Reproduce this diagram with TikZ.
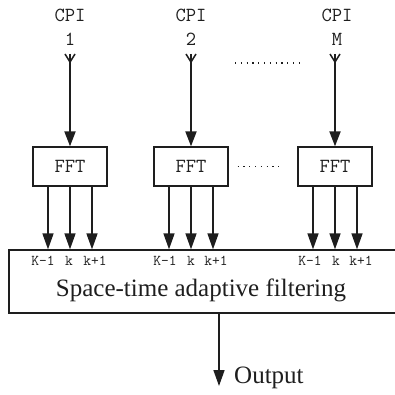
\documentclass[tikz,border=0pt]{standalone}
\usepackage{fontspec}
\setmainfont{Liberation Serif}
\usetikzlibrary{arrows.meta,calc}
\definecolor{ink}{HTML}{1E1E1E}
\begin{document}
\begin{tikzpicture}[x=1pt,y=-1pt,
  ink/.style={draw=ink,text=ink},
  fftbox/.style={ink,line width=1.3pt,minimum width=74pt,minimum height=39pt,inner sep=0pt,font=\ttfamily\fontsize{20}{20}\selectfont},
  cpitxt/.style={text=ink,inner sep=0pt,font=\ttfamily\fontsize{20}{20}\selectfont},
  idxtxt/.style={text=ink,inner sep=0pt,font=\ttfamily\fontsize{15}{15}\selectfont},
  bigarr/.style={draw=ink,line width=2pt,-{Triangle[width=11pt,length=15pt]}},
  subarr/.style={draw=ink,line width=1.6pt,-{Triangle[width=11pt,length=16pt]}},
  tailv/.style={draw=ink,line width=1.5pt},
  dots/.style={draw=ink,line width=1.1pt,dash pattern=on 1.2pt off 4.6pt}
]
\useasboundingbox (0,0) rectangle (394,395);
% FFT boxes
\node[fftbox,draw] (f1) at (70,166.5) {FFT};
\node[fftbox,draw] (f2) at (191,166.5) {FFT};
\node[fftbox,draw] (f3) at (335,166.5) {FFT};
% CPI labels
\foreach \n/\x/\t in {1/70/1,2/191/2,3/337/M}{
  \node[cpitxt] (cpi\n) at (\x,15) {CPI};
  \node[cpitxt] (num\n) at (\x,39) {\t};
  \coordinate (t\n) at (f\n.north |- 0,54);
}
% big box
\node[ink,line width=1.3pt,draw,minimum width=391pt,minimum height=63pt,inner sep=0pt] (big) at (204.5,281.5) {};
\node[text=ink,inner sep=0pt,font=\fontsize{25}{25}\selectfont] (stap) at (201,290) {Space-time adaptive filtering};
% CPI arrows with fork tails
\foreach \n in {1,2,3}{
  \draw[bigarr] (t\n) -- (f\n.north);
  \draw[tailv] ([xshift=-5pt]t\n) -- ([yshift=-8pt]t\n) -- ([xshift=5pt]t\n);
}
% sub arrows
\foreach \n in {1,2,3}{
  \foreach \d in {-22,0,22}{
    \draw[subarr] ([xshift=\d pt]f\n.south) -- ([xshift=\d pt]f\n.south |- big.north);
  }
}
% index labels
\node[idxtxt] (l1a) at (43,261) {K-1};
\node[idxtxt] (l1b) at (69,261) {k};
\node[idxtxt] (l1c) at (95,261) {k+1};
\node[idxtxt] (l2a) at (165,261) {K-1};
\node[idxtxt] (l2b) at (191,261) {k};
\node[idxtxt] (l2c) at (216,261) {k+1};
\node[idxtxt] (l3a) at (310,261) {K-1};
\node[idxtxt] (l3b) at (336,261) {k};
\node[idxtxt] (l3c) at (361,261) {k+1};
% dotted
\coordinate (d1a) at (235,63); \coordinate (d1b) at (300,63);
\draw[dots] (d1a) -- (d1b);
\draw[dots] ([xshift=9pt]f2.east) -- ([xshift=-14pt]f3.west);
% output
\coordinate (out) at (219,386);
\draw[subarr] (big.south -| out) -- (out);
\node[text=ink,inner sep=0pt,anchor=west,font=\fontsize{25}{25}\selectfont] (outtxt) at (234,378) {Output};
\end{tikzpicture}
\end{document}
